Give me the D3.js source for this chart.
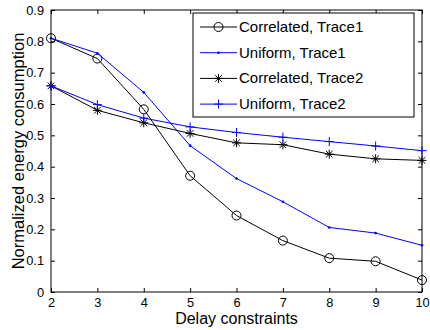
<!DOCTYPE html>
<html>
<head>
<meta charset="utf-8">
<script src="https://cdn.jsdelivr.net/npm/d3@7"></script>
<style>
  body { margin: 0; background: #fff; }
  svg { display: block; font-family: Arial, "Liberation Sans", Helvetica, sans-serif; }
</style>
</head>
<body>
<div class="mySvg"></div>
<script>
// values
var delays = [2, 3, 4, 5, 6, 7, 8, 9, 10];
var correlatedTrace1 = [0.81, 0.745, 0.583, 0.371, 0.244, 0.164, 0.108, 0.098, 0.038];
var uniformTrace1    = [0.81, 0.762, 0.637, 0.467, 0.362, 0.288, 0.206, 0.188, 0.149];
var correlatedTrace2 = [0.658, 0.58, 0.54, 0.506, 0.476, 0.47, 0.44, 0.425, 0.42];
var uniformTrace2    = [0.658, 0.598, 0.555, 0.527, 0.509, 0.494, 0.48, 0.466, 0.451];
var seriesNames = ['Correlated, Trace1', 'Uniform, Trace1', 'Correlated, Trace2', 'Uniform, Trace2'];
var yTicks = [0, 0.1, 0.2, 0.3, 0.4, 0.5, 0.6, 0.7, 0.8, 0.9];

var series = [
  { name: seriesNames[0], values: correlatedTrace1, color: '#000', marker: 'circle' },
  { name: seriesNames[1], values: uniformTrace1,    color: '#0000ff', marker: 'point' },
  { name: seriesNames[2], values: correlatedTrace2, color: '#000', marker: 'star' },
  { name: seriesNames[3], values: uniformTrace2,    color: '#0000ff', marker: 'plus' }
];

var margin = {top: 10, right: 8, bottom: 38, left: 51};
var width  = 430 - margin.left - margin.right;
var height = 330 - margin.top - margin.bottom;

var xScale = d3.scaleLinear().domain([2, 10]).range([0, width]);
var yScale = d3.scaleLinear().domain([0, 0.9]).range([height, 0]);

var svg = d3.select('.mySvg').append('svg')
  .attr('width', 430)
  .attr('height', 330);

var g = svg.append('g')
  .attr('transform', 'translate(' + margin.left + ',' + margin.top + ')');

// ticks point inward, on all four sides (matlab box)
var tickLen = 4;
g.append('g').attr('transform', 'translate(0,' + height + ')')
  .call(d3.axisBottom(xScale).tickValues(delays).tickSize(-tickLen).tickPadding(6).tickFormat(d3.format('d')))
  .call(function(a){ a.select('.domain').remove(); });
g.append('g')
  .call(d3.axisTop(xScale).tickValues(delays).tickSize(-tickLen).tickFormat(''))
  .call(function(a){ a.select('.domain').remove(); });
g.append('g')
  .call(d3.axisLeft(yScale).tickValues(yTicks).tickSize(-tickLen).tickPadding(7).tickFormat(function(d){ return d === 0 ? '0' : d3.format('.1f')(d); }))
  .call(function(a){ a.select('.domain').remove(); });
g.append('g').attr('transform', 'translate(' + width + ',0)')
  .call(d3.axisRight(yScale).tickValues(yTicks).tickSize(-tickLen).tickFormat(''))
  .call(function(a){ a.select('.domain').remove(); });

g.selectAll('.tick text').attr('font-size', 12.8).attr('font-family', 'Arial, "Liberation Sans", sans-serif').attr('fill', '#000');
g.selectAll('.tick line').attr('stroke', '#000');

g.append('rect')
  .attr('width', width).attr('height', height)
  .attr('fill', 'none').attr('stroke', '#000').attr('stroke-width', 1);

var line = d3.line()
  .x(function(d, i){ return xScale(delays[i]); })
  .y(function(d){ return yScale(d); });

function drawMarker(sel, type, color) {
  if (type === 'circle') {
    sel.append('circle').attr('r', 4.5).attr('fill', 'none').attr('stroke', color).attr('stroke-width', 1);
  } else if (type === 'point') {
    sel.append('circle').attr('r', 1.3).attr('fill', color);
  } else if (type === 'star') {
    sel.append('path').attr('d', 'M-4.5,0H4.5M0,-4.5V4.5M-3.3,-3.3L3.3,3.3M-3.3,3.3L3.3,-3.3')
      .attr('stroke', color).attr('stroke-width', 1).attr('fill', 'none');
  } else if (type === 'plus') {
    sel.append('path').attr('d', 'M-4.5,0H4.5M0,-4.5V4.5')
      .attr('stroke', color).attr('stroke-width', 1).attr('fill', 'none');
  }
}

series.forEach(function(s) {
  g.append('path')
    .datum(s.values)
    .attr('fill', 'none')
    .attr('stroke', s.color)
    .attr('stroke-width', 1)
    .attr('d', line);

  g.selectAll(null)
    .data(s.values)
    .enter()
    .append('g')
    .attr('transform', function(d, i){ return 'translate(' + xScale(delays[i]) + ',' + yScale(d) + ')'; })
    .each(function(){ drawMarker(d3.select(this), s.marker, s.color); });
});

// legend
var legend = svg.append('g').attr('transform', 'translate(193,13)');
legend.append('rect')
  .attr('width', 221).attr('height', 104)
  .attr('fill', '#fff').attr('stroke', '#000').attr('stroke-width', 1);

series.forEach(function(s, i) {
  var row = legend.append('g').attr('transform', 'translate(0,' + (14 + i * 25.7) + ')');
  row.append('line').attr('x1', 7).attr('x2', 44).attr('y1', 0).attr('y2', 0)
    .attr('stroke', s.color).attr('stroke-width', 1);
  drawMarker(row.append('g').attr('transform', 'translate(25.5,0)'), s.marker, s.color);
  row.append('text').attr('x', 46).attr('y', 5)
    .attr('font-size', 15).attr('fill', '#000')
    .text(s.name);
});

// axis labels
svg.append('text')
  .attr('x', margin.left + width / 2).attr('y', 324)
  .attr('text-anchor', 'middle').attr('font-size', 16)
  .text('Delay constraints');

svg.append('text')
  .attr('transform', 'translate(24,' + (margin.top + height / 2) + ') rotate(-90)')
  .attr('text-anchor', 'middle').attr('font-size', 16.5)
  .text('Normalized energy consumption');
</script>
</body>
</html>
